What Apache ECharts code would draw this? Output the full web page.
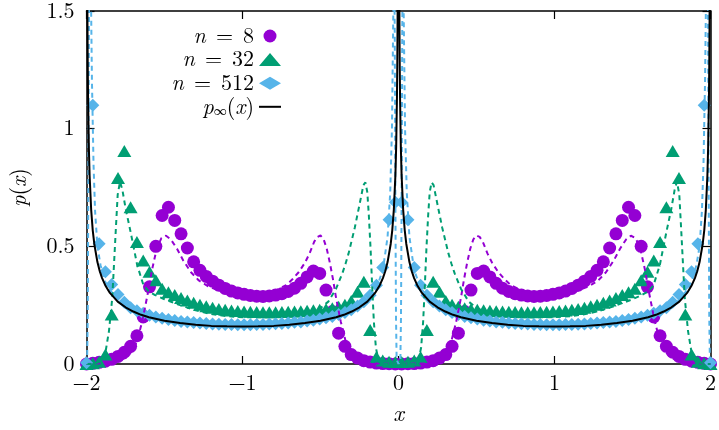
<!DOCTYPE html>
<html>
<head>
<meta charset="utf-8">
<script src="https://cdn.jsdelivr.net/npm/echarts@6/dist/echarts.min.js"></script>
<style>
  html, body { margin: 0; padding: 0; background: #fff; }
  #chart { width: 719px; height: 430px; }
</style>
</head>
<body>
<div id="chart"></div>
<script>
// sample positions of the markers (100 points on [-2, 2])
const xs = [-2.0000, -1.9596, -1.9192, -1.8788, -1.8384, -1.7980, -1.7576, -1.7172, -1.6768, -1.6364,
  -1.5960, -1.5556, -1.5152, -1.4747, -1.4343, -1.3939, -1.3535, -1.3131, -1.2727, -1.2323,
  -1.1919, -1.1515, -1.1111, -1.0707, -1.0303, -0.9899, -0.9495, -0.9091, -0.8687, -0.8283,
  -0.7879, -0.7475, -0.7071, -0.6667, -0.6263, -0.5859, -0.5455, -0.5051, -0.4646, -0.4242,
  -0.3838, -0.3434, -0.3030, -0.2626, -0.2222, -0.1818, -0.1414, -0.1010, -0.0606, -0.0202,
  0.0202, 0.0606, 0.1010, 0.1414, 0.1818, 0.2222, 0.2626, 0.3030, 0.3434, 0.3838,
  0.4242, 0.4646, 0.5051, 0.5455, 0.5859, 0.6263, 0.6667, 0.7071, 0.7475, 0.7879,
  0.8283, 0.8687, 0.9091, 0.9495, 0.9899, 1.0303, 1.0707, 1.1111, 1.1515, 1.1919,
  1.2323, 1.2727, 1.3131, 1.3535, 1.3939, 1.4343, 1.4747, 1.5152, 1.5556, 1.5960,
  1.6364, 1.6768, 1.7172, 1.7576, 1.7980, 1.8384, 1.8788, 1.9192, 1.9596, 2.0000];

// n = 8 markers
const n8 = [0.000, 0.003, 0.007, 0.012, 0.020, 0.032, 0.050, 0.075, 0.120, 0.200,
  0.328, 0.500, 0.631, 0.666, 0.610, 0.553, 0.493, 0.434, 0.398, 0.372,
  0.352, 0.335, 0.321, 0.310, 0.302, 0.296, 0.291, 0.288, 0.287, 0.289,
  0.293, 0.299, 0.308, 0.322, 0.343, 0.370, 0.395, 0.385, 0.314, 0.223,
  0.131, 0.075, 0.040, 0.025, 0.014, 0.008, 0.004, 0.002, 0.001, 0.000,
  0.000, 0.001, 0.002, 0.004, 0.008, 0.014, 0.025, 0.040, 0.075, 0.131,
  0.223, 0.314, 0.385, 0.395, 0.370, 0.343, 0.322, 0.308, 0.299, 0.293,
  0.289, 0.287, 0.288, 0.291, 0.296, 0.302, 0.310, 0.321, 0.335, 0.352,
  0.372, 0.398, 0.434, 0.493, 0.553, 0.610, 0.666, 0.631, 0.500, 0.328,
  0.200, 0.120, 0.075, 0.050, 0.032, 0.020, 0.012, 0.007, 0.003, 0.000];

// n = 32 markers
const n32 = [0.000, 0.003, 0.010, 0.040, 0.210, 0.790, 0.905, 0.666, 0.518, 0.440,
  0.392, 0.356, 0.320, 0.305, 0.293, 0.280, 0.270, 0.260, 0.252, 0.245,
  0.239, 0.234, 0.230, 0.227, 0.225, 0.223, 0.222, 0.221, 0.220, 0.220,
  0.220, 0.221, 0.222, 0.223, 0.224, 0.226, 0.228, 0.230, 0.233, 0.237,
  0.243, 0.252, 0.268, 0.307, 0.350, 0.145, 0.030, 0.015, 0.010, 0.008,
  0.008, 0.010, 0.015, 0.030, 0.145, 0.350, 0.307, 0.268, 0.252, 0.243,
  0.237, 0.233, 0.230, 0.228, 0.226, 0.224, 0.223, 0.222, 0.221, 0.220,
  0.220, 0.220, 0.221, 0.222, 0.223, 0.225, 0.227, 0.230, 0.234, 0.239,
  0.245, 0.252, 0.260, 0.270, 0.280, 0.293, 0.305, 0.320, 0.356, 0.392,
  0.440, 0.518, 0.666, 0.905, 0.790, 0.210, 0.040, 0.010, 0.003, 0.000];

// n = 512 markers
const n512 = [0.005, 1.100, 0.511, 0.392, 0.338, 0.295, 0.262, 0.239, 0.226, 0.216,
  0.207, 0.200, 0.194, 0.189, 0.185, 0.181, 0.178, 0.176, 0.174, 0.172,
  0.170, 0.169, 0.168, 0.168, 0.167, 0.167, 0.167, 0.168, 0.168, 0.170,
  0.171, 0.172, 0.174, 0.177, 0.179, 0.183, 0.186, 0.191, 0.196, 0.202,
  0.210, 0.219, 0.231, 0.246, 0.265, 0.292, 0.335, 0.410, 0.613, 0.687,
  0.687, 0.613, 0.410, 0.335, 0.292, 0.265, 0.246, 0.231, 0.219, 0.210,
  0.202, 0.196, 0.191, 0.186, 0.183, 0.179, 0.177, 0.174, 0.172, 0.171,
  0.170, 0.168, 0.168, 0.167, 0.167, 0.167, 0.168, 0.168, 0.169, 0.170,
  0.172, 0.174, 0.176, 0.178, 0.181, 0.185, 0.189, 0.194, 0.200, 0.207,
  0.216, 0.226, 0.239, 0.262, 0.295, 0.338, 0.392, 0.511, 1.100, 0.005];

// dashed curves as [x, p]
const n8Curve = [[-2, 0], [-1.85, 0.005], [-1.75, 0.025], [-1.70, 0.06], [-1.67, 0.11], [-1.64, 0.19],
  [-1.61, 0.29], [-1.58, 0.40], [-1.55, 0.49], [-1.52, 0.535], [-1.49, 0.545], [-1.46, 0.53],
  [-1.42, 0.49], [-1.38, 0.44], [-1.33, 0.39], [-1.28, 0.355], [-1.22, 0.33], [-1.15, 0.312],
  [-1.08, 0.302], [-1.0, 0.297], [-0.92, 0.297], [-0.85, 0.302], [-0.78, 0.315], [-0.72, 0.335],
  [-0.68, 0.36], [-0.64, 0.39], [-0.60, 0.43], [-0.57, 0.47], [-0.54, 0.52], [-0.52, 0.54],
  [-0.50, 0.546], [-0.48, 0.53], [-0.46, 0.49], [-0.44, 0.43], [-0.42, 0.36], [-0.40, 0.28],
  [-0.37, 0.18], [-0.34, 0.10], [-0.30, 0.04], [-0.26, 0.015], [-0.20, 0.003], [0, 0],
  [0.20, 0.003], [0.26, 0.015], [0.30, 0.04], [0.34, 0.10], [0.37, 0.18], [0.40, 0.28],
  [0.42, 0.36], [0.44, 0.43], [0.46, 0.49], [0.48, 0.53], [0.50, 0.546], [0.52, 0.54],
  [0.54, 0.52], [0.57, 0.47], [0.60, 0.43], [0.64, 0.39], [0.68, 0.36], [0.72, 0.335],
  [0.78, 0.315], [0.85, 0.302], [0.92, 0.297], [1.0, 0.297], [1.08, 0.302], [1.15, 0.312],
  [1.22, 0.33], [1.28, 0.355], [1.33, 0.39], [1.38, 0.44], [1.42, 0.49], [1.46, 0.53],
  [1.49, 0.545], [1.52, 0.535], [1.55, 0.49], [1.58, 0.40], [1.61, 0.29], [1.64, 0.19],
  [1.67, 0.11], [1.70, 0.06], [1.75, 0.025], [1.85, 0.005], [2, 0]];

const n32Curve = [[-2, 0], [-1.95, 0], [-1.9, 0.015], [-1.877, 0.055], [-1.856, 0.14], [-1.835, 0.28],
  [-1.824, 0.42], [-1.813, 0.56], [-1.80, 0.72], [-1.785, 0.775], [-1.77, 0.74], [-1.749, 0.66],
  [-1.717, 0.56], [-1.675, 0.42], [-1.635, 0.335], [-1.6, 0.308], [-1.56, 0.293], [-1.5, 0.275],
  [-1.4, 0.25], [-1.3, 0.228], [-1.2, 0.212], [-1.1, 0.203], [-1.0, 0.199], [-0.86, 0.199],
  [-0.75, 0.202], [-0.63, 0.21], [-0.55, 0.224], [-0.50, 0.238], [-0.45, 0.265], [-0.40, 0.32],
  [-0.36, 0.385], [-0.34, 0.425], [-0.32, 0.47], [-0.30, 0.525], [-0.28, 0.58], [-0.26, 0.645],
  [-0.24, 0.71], [-0.225, 0.76], [-0.212, 0.772], [-0.20, 0.73], [-0.19, 0.63], [-0.179, 0.49],
  [-0.168, 0.32], [-0.158, 0.18], [-0.145, 0.07], [-0.13, 0.02], [-0.12, 0.005], [-0.10, 0], [0, 0],
  [0.10, 0], [0.12, 0.005], [0.13, 0.02], [0.145, 0.07], [0.158, 0.18], [0.168, 0.32],
  [0.179, 0.49], [0.19, 0.63], [0.20, 0.73], [0.212, 0.772], [0.225, 0.76], [0.24, 0.71],
  [0.26, 0.645], [0.28, 0.58], [0.30, 0.525], [0.32, 0.47], [0.34, 0.425], [0.36, 0.385],
  [0.40, 0.32], [0.45, 0.265], [0.50, 0.238], [0.55, 0.224], [0.63, 0.21], [0.75, 0.202],
  [0.86, 0.199], [1.0, 0.199], [1.1, 0.203], [1.2, 0.212], [1.3, 0.228], [1.4, 0.25],
  [1.5, 0.275], [1.56, 0.293], [1.6, 0.308], [1.635, 0.335], [1.675, 0.42], [1.717, 0.56],
  [1.749, 0.66], [1.77, 0.74], [1.785, 0.775], [1.80, 0.72], [1.813, 0.56], [1.824, 0.42],
  [1.835, 0.28], [1.856, 0.14], [1.877, 0.055], [1.9, 0.015], [1.95, 0], [2, 0]];

const n512Curve = [[-2, 0], [-1.996, 0.02], [-1.992, 0.2], [-1.988, 0.8], [-1.984, 1.5], [-1.978, 1.8],
  [-1.972, 1.6], [-1.965, 1.2], [-1.955, 0.85], [-1.945, 0.65], [-1.93, 0.5], [-1.91, 0.42],
  [-1.88, 0.35], [-1.85, 0.315], [-1.8, 0.272], [-1.75, 0.246], [-1.7, 0.228], [-1.6, 0.203],
  [-1.5, 0.187], [-1.4, 0.177], [-1.3, 0.170], [-1.2, 0.165], [-1.1, 0.163], [-1.0, 0.162],
  [-0.9, 0.163], [-0.8, 0.165], [-0.7, 0.169], [-0.6, 0.176], [-0.5, 0.186], [-0.4, 0.201],
  [-0.3, 0.226], [-0.2, 0.272], [-0.14, 0.325], [-0.1, 0.40], [-0.07, 0.54], [-0.053, 0.73],
  [-0.042, 1.0], [-0.034, 1.45], [-0.028, 1.75], [-0.024, 1.4], [-0.02, 0.7], [-0.016, 0.2],
  [-0.012, 0.02], [0, 0], [0.012, 0.02], [0.016, 0.2], [0.02, 0.7], [0.024, 1.4], [0.028, 1.75],
  [0.034, 1.45], [0.042, 1.0], [0.053, 0.73], [0.07, 0.54], [0.1, 0.40], [0.14, 0.325],
  [0.2, 0.272], [0.3, 0.226], [0.4, 0.201], [0.5, 0.186], [0.6, 0.176], [0.7, 0.169],
  [0.8, 0.165], [0.9, 0.163], [1.0, 0.162], [1.1, 0.163], [1.2, 0.165], [1.3, 0.170],
  [1.4, 0.177], [1.5, 0.187], [1.6, 0.203], [1.7, 0.228], [1.75, 0.246], [1.8, 0.272],
  [1.85, 0.315], [1.88, 0.35], [1.91, 0.42], [1.93, 0.5], [1.945, 0.65], [1.955, 0.85],
  [1.965, 1.2], [1.972, 1.6], [1.978, 1.8], [1.984, 1.5], [1.988, 0.8], [1.992, 0.2],
  [1.996, 0.02], [2, 0]];

// limiting density p_inf(x)
const pInf = [[-1.998, 2.518], [-1.996, 1.781], [-1.994, 1.455], [-1.992, 1.261], [-1.99, 1.128],
  [-1.985, 0.922], [-1.98, 0.800], [-1.97, 0.655], [-1.96, 0.568], [-1.95, 0.510], [-1.93, 0.433],
  [-1.915, 0.394], [-1.9, 0.365], [-1.88, 0.335], [-1.85, 0.302], [-1.8, 0.265], [-1.75, 0.241],
  [-1.7, 0.223], [-1.65, 0.209], [-1.6, 0.199], [-1.5, 0.184], [-1.4, 0.174], [-1.3, 0.167],
  [-1.2, 0.162], [-1.1, 0.160], [-1.0, 0.159], [-0.9, 0.160], [-0.8, 0.162], [-0.7, 0.167],
  [-0.6, 0.174], [-0.5, 0.184], [-0.4, 0.199], [-0.35, 0.209], [-0.3, 0.223], [-0.25, 0.241],
  [-0.2, 0.265], [-0.15, 0.302], [-0.12, 0.335], [-0.1, 0.365], [-0.085, 0.394], [-0.07, 0.433],
  [-0.05, 0.510], [-0.04, 0.568], [-0.03, 0.655], [-0.02, 0.800], [-0.015, 0.922], [-0.01, 1.128],
  [-0.008, 1.261], [-0.006, 1.455], [-0.004, 1.781], [-0.002, 2.518],
  [0.002, 2.518], [0.004, 1.781], [0.006, 1.455], [0.008, 1.261], [0.01, 1.128], [0.015, 0.922],
  [0.02, 0.800], [0.03, 0.655], [0.04, 0.568], [0.05, 0.510], [0.07, 0.433], [0.085, 0.394],
  [0.1, 0.365], [0.12, 0.335], [0.15, 0.302], [0.2, 0.265], [0.25, 0.241], [0.3, 0.223],
  [0.35, 0.209], [0.4, 0.199], [0.5, 0.184], [0.6, 0.174], [0.7, 0.167], [0.8, 0.162],
  [0.9, 0.160], [1.0, 0.159], [1.1, 0.160], [1.2, 0.162], [1.3, 0.167], [1.4, 0.174],
  [1.5, 0.184], [1.6, 0.199], [1.65, 0.209], [1.7, 0.223], [1.75, 0.241], [1.8, 0.265],
  [1.85, 0.302], [1.88, 0.335], [1.9, 0.365], [1.915, 0.394], [1.93, 0.433], [1.95, 0.510],
  [1.96, 0.568], [1.97, 0.655], [1.98, 0.800], [1.985, 0.922], [1.99, 1.128], [1.992, 1.261],
  [1.994, 1.455], [1.996, 1.781], [1.998, 2.518]];

const xTicks = [-2, -1, 0, 1, 2];
const xTickLabels = ['\u22122', '\u22121', '0', '1', '2'];
const yTicks = [0, 0.5, 1, 1.5];
const yTickLabels = ['0', '0.5', '1', '1.5'];

const PURPLE = '#9400d3', GREEN = '#009e73', BLUE = '#56b4e9';
const FONT = 'Latin Modern Roman';

const legendText = {
  n8: '{i|n}{e|=}{r|8}',
  n32: '{i|n}{e|=}{r|32}',
  n512: '{i|n}{e|=}{r|512}',
  pinf: '{i|p}{s|\u221e}{r|(}{i|x}{r|)}'
};
const rich = {
  i: { fontFamily: FONT, fontStyle: 'italic', fontSize: 22, lineHeight: 21, color: '#000' },
  r: { fontFamily: FONT, fontSize: 22, lineHeight: 21, color: '#000' },
  e: { fontFamily: FONT, fontSize: 22, lineHeight: 21, color: '#000', padding: [0, 10, 0, 10] },
  s: { fontFamily: FONT, fontSize: 13, lineHeight: 11, color: '#000', verticalAlign: 'bottom' }
};

const pts = (x, y) => x.map((v, i) => [v, y[i]]);

const chart = echarts.init(document.getElementById('chart'), null, { renderer: 'canvas' });

const axisCommon = {
  type: 'value',
  axisLine: { show: true, onZero: false, lineStyle: { color: '#000', width: 1.5 } },
  axisTick: { show: true, inside: true, length: 8, lineStyle: { color: '#000', width: 1.2 } },
  splitLine: { show: false }
};

chart.setOption({
  animation: false,
  backgroundColor: '#fff',
  grid: { left: 85, right: 7, top: 11, bottom: 64 },
  xAxis: [
    Object.assign({}, axisCommon, {
      min: -2, max: 2, interval: 1, position: 'bottom',
      axisLabel: {
        color: '#000', fontFamily: FONT, fontSize: 22, margin: 8,
        formatter: v => xTickLabels[xTicks.indexOf(Math.round(v))]
      },
      name: 'x', nameLocation: 'middle', nameGap: 38,
      nameTextStyle: { color: '#000', fontFamily: FONT, fontStyle: 'italic', fontSize: 23 }
    }),
    Object.assign({}, axisCommon, {
      min: -2, max: 2, interval: 1, position: 'top', axisLabel: { show: false }
    })
  ],
  yAxis: [
    Object.assign({}, axisCommon, {
      min: 0, max: 1.5, interval: 0.5, position: 'left',
      axisLabel: {
        color: '#000', fontFamily: FONT, fontSize: 22, margin: 12,
        formatter: v => yTickLabels[yTicks.indexOf(Math.round(v * 2) / 2)]
      },
      name: '{i|p}{r|(}{i|x}{r|)}', nameLocation: 'middle', nameGap: 57, nameRotate: 90,
      nameTextStyle: { rich: rich }
    }),
    Object.assign({}, axisCommon, {
      min: 0, max: 1.5, interval: 0.5, position: 'right', axisLabel: { show: false }
    })
  ],
  legend: {
    orient: 'vertical', align: 'right', right: 432, top: 20,
    itemWidth: 22, itemHeight: 13, itemGap: 1.6,
    selectedMode: false,
    data: [
      { name: 'n8', icon: 'circle' },
      { name: 'n32', icon: 'triangle' },
      { name: 'n512', icon: 'diamond' },
      { name: 'pinf', itemStyle: { opacity: 0 } }
    ],
    formatter: name => legendText[name],
    textStyle: { fontFamily: FONT, rich: rich }
  },
  series: [
    { name: 'n8', type: 'scatter', data: pts(xs, n8), symbol: 'circle', symbolSize: 13,
      itemStyle: { color: PURPLE, opacity: 1 }, silent: true },
    { type: 'line', data: n8Curve, symbol: 'none', silent: true,
      lineStyle: { color: PURPLE, width: 2, type: [5, 4] } },
    { name: 'n32', type: 'scatter', data: pts(xs, n32), symbol: 'triangle', symbolSize: [14, 12],
      itemStyle: { color: GREEN, opacity: 1 }, silent: true },
    { type: 'line', data: n32Curve, symbol: 'none', silent: true,
      lineStyle: { color: GREEN, width: 2, type: [5, 4] } },
    { name: 'n512', type: 'scatter', data: pts(xs, n512), symbol: 'diamond', symbolSize: 13,
      itemStyle: { color: BLUE, opacity: 1 }, silent: true },
    { type: 'line', data: n512Curve, symbol: 'none', silent: true,
      lineStyle: { color: BLUE, width: 2, type: [5, 4] } },
    { name: 'pinf', type: 'line', data: pInf, symbol: 'none', silent: true,
      itemStyle: { color: '#000' }, lineStyle: { color: '#000', width: 2 } }
  ]
});
</script>
</body>
</html>
